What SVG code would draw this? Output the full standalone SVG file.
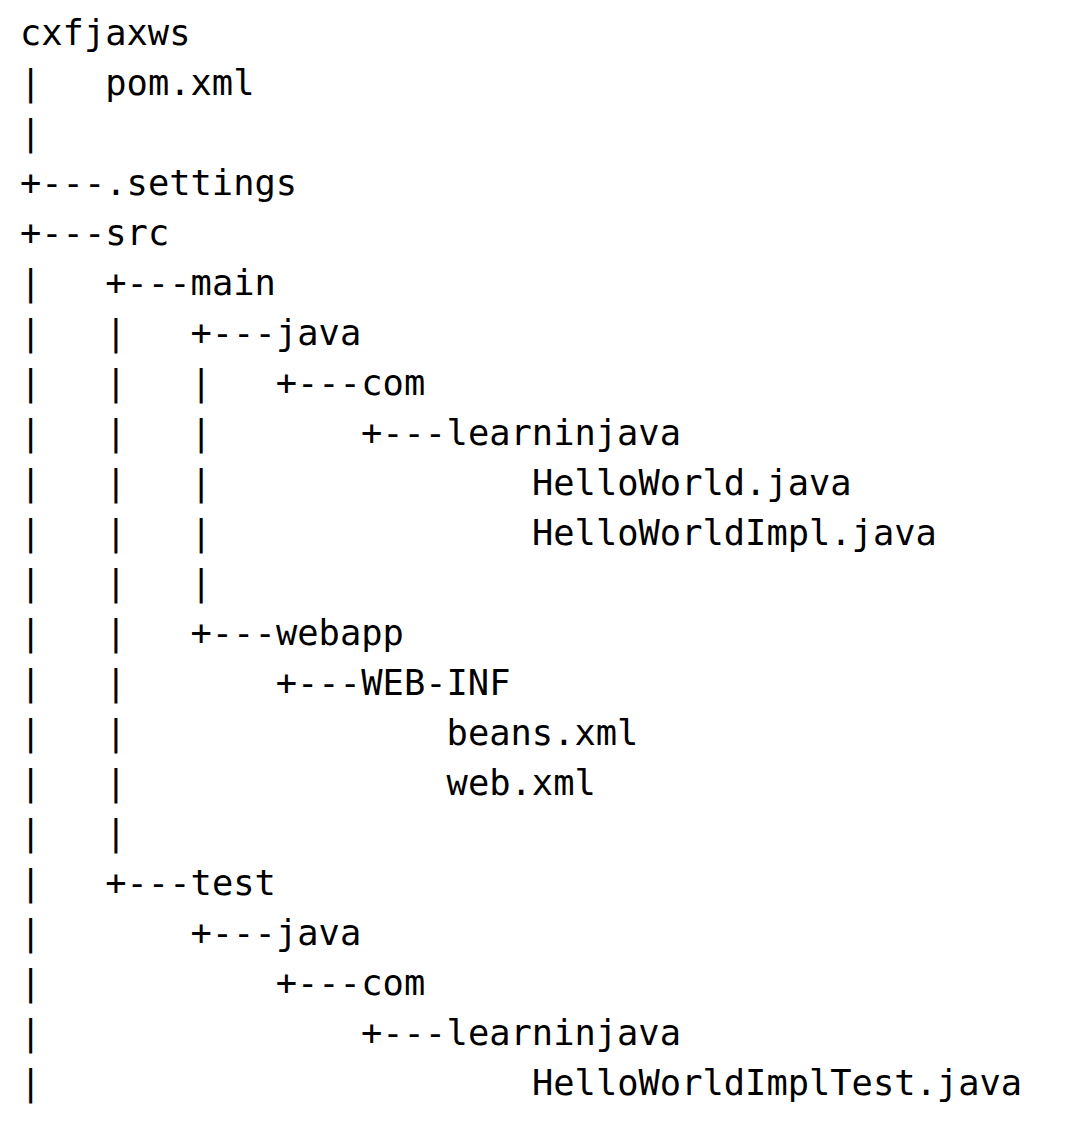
<svg xmlns="http://www.w3.org/2000/svg" width="1065" height="1135" viewBox="0 0 1065 1135">
<style>
text{font-family:"DejaVu Sans Mono","Liberation Mono",monospace;font-size:35.4px;fill:#000;white-space:pre}
</style>
<rect width="1065" height="1135" fill="#fff"/>
<g id="connectors">
<text x="20" y="95" xml:space="preserve">|</text>
<text x="20" y="145" xml:space="preserve">|</text>
<text x="20" y="195" xml:space="preserve">+---</text>
<text x="20" y="245" xml:space="preserve">+---</text>
<text x="20" y="295" xml:space="preserve">|   +---</text>
<text x="20" y="345" xml:space="preserve">|   |   +---</text>
<text x="20" y="395" xml:space="preserve">|   |   |   +---</text>
<text x="20" y="445" xml:space="preserve">|   |   |       +---</text>
<text x="20" y="495" xml:space="preserve">|   |   |</text>
<text x="20" y="545" xml:space="preserve">|   |   |</text>
<text x="20" y="595" xml:space="preserve">|   |   |</text>
<text x="20" y="645" xml:space="preserve">|   |   +---</text>
<text x="20" y="695" xml:space="preserve">|   |       +---</text>
<text x="20" y="745" xml:space="preserve">|   |</text>
<text x="20" y="795" xml:space="preserve">|   |</text>
<text x="20" y="845" xml:space="preserve">|   |</text>
<text x="20" y="895" xml:space="preserve">|   +---</text>
<text x="20" y="945" xml:space="preserve">|       +---</text>
<text x="20" y="995" xml:space="preserve">|           +---</text>
<text x="20" y="1045" xml:space="preserve">|               +---</text>
<text x="20" y="1095" xml:space="preserve">|</text>
</g>
<g id="n-cxfjaxws"><text x="20" y="45">cxfjaxws</text></g>
<g id="n-pom"><text x="105.3" y="95">pom.xml</text></g>
<g id="n-settings"><text x="105.3" y="195">.settings</text></g>
<g id="n-src"><text x="105.3" y="245">src</text></g>
<g id="n-main"><text x="190.6" y="295">main</text></g>
<g id="n-main-java"><text x="276" y="345">java</text></g>
<g id="n-main-com"><text x="361.3" y="395">com</text></g>
<g id="n-main-learninjava"><text x="446.6" y="445">learninjava</text></g>
<g id="n-helloworld"><text x="532" y="495">HelloWorld.java</text></g>
<g id="n-helloworldimpl"><text x="532" y="545">HelloWorldImpl.java</text></g>
<g id="n-webapp"><text x="276" y="645">webapp</text></g>
<g id="n-webinf"><text x="361.3" y="695">WEB-INF</text></g>
<g id="n-beans"><text x="446.6" y="745">beans.xml</text></g>
<g id="n-web"><text x="446.6" y="795">web.xml</text></g>
<g id="n-test"><text x="190.6" y="895">test</text></g>
<g id="n-test-java"><text x="276" y="945">java</text></g>
<g id="n-test-com"><text x="361.3" y="995">com</text></g>
<g id="n-test-learninjava"><text x="446.6" y="1045">learninjava</text></g>
<g id="n-helloworldimpltest"><text x="532" y="1095">HelloWorldImplTest.java</text></g>
</svg>
